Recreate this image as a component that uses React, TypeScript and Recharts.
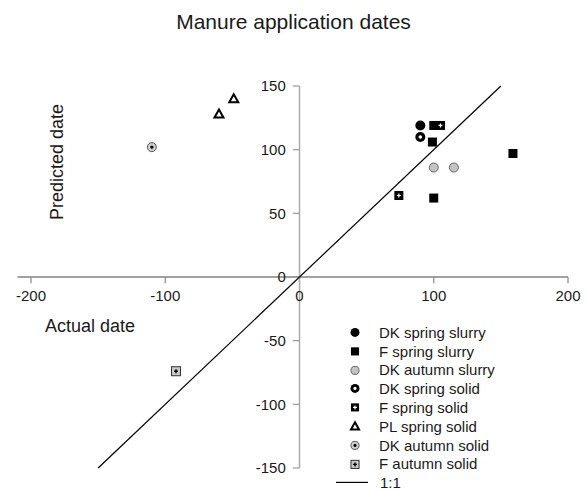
import React from 'react';
import { ScatterChart, Scatter, XAxis, YAxis, ReferenceLine, Legend } from 'recharts';

// axis setup
const xTicks = [-200, -100, 0, 100, 200];
const yTicks = [-150, -100, -50, 0, 50, 100, 150];
const xDomain = [-210, 200];
const yDomain = [-150, 150];
const oneToOne = [-150, 150];

// actual vs predicted application day
const dkSpringSlurry = [{ x: 90, y: 119 }];
const fSpringSlurry = [
  { x: 100, y: 119 },
  { x: 99, y: 106 },
  { x: 159, y: 97 },
  { x: 100, y: 62 },
];
const dkAutumnSlurry = [
  { x: 100, y: 86 },
  { x: 115, y: 86 },
];
const dkSpringSolid = [{ x: 90, y: 110 }];
const fSpringSolid = [
  { x: 105, y: 119 },
  { x: 74, y: 64 },
];
const plSpringSolid = [
  { x: -60, y: 128 },
  { x: -49, y: 140 },
];
const dkAutumnSolid = [{ x: -110, y: 102 }];
const fAutumnSolid = [{ x: -92, y: -74 }];

type Kind = 'circle' | 'square' | 'greyCircle' | 'ringCircle' | 'plusSquare' | 'triangle' | 'dotCircle' | 'dotSquare';

const series: { name: string; data: { x: number; y: number }[]; kind: Kind }[] = [
  { name: 'DK spring slurry', data: dkSpringSlurry, kind: 'circle' },
  { name: 'F spring slurry', data: fSpringSlurry, kind: 'square' },
  { name: 'DK autumn slurry', data: dkAutumnSlurry, kind: 'greyCircle' },
  { name: 'DK spring solid', data: dkSpringSolid, kind: 'ringCircle' },
  { name: 'F spring solid', data: fSpringSolid, kind: 'plusSquare' },
  { name: 'PL spring solid', data: plSpringSolid, kind: 'triangle' },
  { name: 'DK autumn solid', data: dkAutumnSolid, kind: 'dotCircle' },
  { name: 'F autumn solid', data: fAutumnSolid, kind: 'dotSquare' },
];

const FONT = 'Arial, "Liberation Sans", sans-serif';
const TEXT = '#1a1a1a';

const Marker = ({ kind, cx, cy, s = 1 }: { kind: Kind; cx: number; cy: number; s?: number }) => {
  const h = 4.5 * s;
  switch (kind) {
    case 'circle':
      return <circle cx={cx} cy={cy} r={5 * s} fill="#000" />;
    case 'square':
      return <rect x={cx - h} y={cy - h} width={2 * h} height={2 * h} fill="#000" />;
    case 'greyCircle':
      return <circle cx={cx} cy={cy} r={4.5 * s} fill="#c4c4c4" stroke="#666" strokeWidth={1} />;
    case 'ringCircle':
      return (
        <g>
          <circle cx={cx} cy={cy} r={5 * s} fill="#000" />
          <circle cx={cx} cy={cy} r={1.8 * s} fill="#fff" />
        </g>
      );
    case 'plusSquare':
      return (
        <g>
          <rect x={cx - h} y={cy - h} width={2 * h} height={2 * h} fill="#000" />
          <path d={`M${cx - 2} ${cy}H${cx + 2}M${cx} ${cy - 2}V${cy + 2}`} stroke="#fff" strokeWidth={1.2} />
        </g>
      );
    case 'triangle':
      return (
        <polygon
          points={`${cx},${cy - 4.5 * s} ${cx + 4.5 * s},${cy + 3.5 * s} ${cx - 4.5 * s},${cy + 3.5 * s}`}
          fill="#fff"
          stroke="#000"
          strokeWidth={2}
          strokeLinejoin="miter"
        />
      );
    case 'dotCircle':
      return (
        <g>
          <circle cx={cx} cy={cy} r={4.5 * s} fill="#cfcfcf" stroke="#555" strokeWidth={1} />
          <circle cx={cx} cy={cy} r={1.7 * s} fill="#000" />
        </g>
      );
    case 'dotSquare':
      return (
        <g>
          <rect x={cx - h} y={cy - h} width={2 * h} height={2 * h} fill="#c8c8c8" stroke="#333" strokeWidth={1} />
          <path d={`M${cx - 2} ${cy}H${cx + 2}M${cx} ${cy - 2}V${cy + 2}`} stroke="#000" strokeWidth={1.4} />
        </g>
      );
  }
  return null;
};

const LegendBox = () => (
  <div style={{ fontFamily: FONT, fontSize: 15, color: TEXT }}>
    {series.map((s) => (
      <div key={s.name} style={{ display: 'flex', alignItems: 'center', height: 18.8 }}>
        <svg width={49} height={18.8}>
          <Marker kind={s.kind} cx={25} cy={9.4} s={0.9} />
        </svg>
        <span style={{ whiteSpace: 'nowrap' }}>{s.name}</span>
      </div>
    ))}
    <div style={{ display: 'flex', alignItems: 'center', height: 18.8 }}>
      <svg width={50} height={18.8}>
        <line x1={6} x2={38} y1={9.4} y2={9.4} stroke="#000" strokeWidth={1.2} />
      </svg>
      <span>1:1</span>
    </div>
  </div>
);

const labelStyle = { fill: TEXT, fontSize: 15, fontFamily: FONT };

export default function App() {
  return (
    <div style={{ position: 'absolute', left: 0, top: 0, width: 587, height: 492, background: '#fff' }}>
      <div
        style={{
          position: 'absolute',
          top: 10,
          left: 0,
          width: 587,
          textAlign: 'center',
          fontFamily: FONT,
          fontSize: 21,
          lineHeight: '24px',
          color: TEXT,
        }}
      >
        Manure application dates
      </div>
      <div
        style={{
          position: 'absolute',
          left: 57,
          top: 162,
          transform: 'translate(-50%, -50%) rotate(-90deg)',
          whiteSpace: 'nowrap',
          fontFamily: FONT,
          fontSize: 18,
          color: TEXT,
        }}
      >
        Predicted date
      </div>
      <div
        style={{
          position: 'absolute',
          left: 45,
          top: 315,
          fontFamily: FONT,
          fontSize: 18,
          lineHeight: '22px',
          color: TEXT,
          whiteSpace: 'nowrap',
        }}
      >
        Actual date
      </div>

      <ScatterChart width={587} height={492} margin={{ top: 86, right: 19, bottom: 24, left: 17.6 }}>
        <XAxis type="number" dataKey="x" domain={xDomain} hide allowDataOverflow />
        <YAxis type="number" dataKey="y" domain={yDomain} hide allowDataOverflow />

        {/* axes crossing at the origin */}
        <ReferenceLine y={0} stroke="#444" strokeWidth={1.2} />
        <ReferenceLine x={0} stroke="#aaa" strokeWidth={1.5} />

        {xTicks.map((t) => (
          <ReferenceLine
            key={`xt${t}`}
            segment={[{ x: t, y: 0 }, { x: t, y: -5 }]}
            stroke={t === 0 ? '#aaa' : '#888'}
            strokeWidth={1.2}
            label={{ value: String(t), position: 'bottom', offset: 7, ...labelStyle }}
          />
        ))}
        {yTicks.map((t) => (
          <ReferenceLine
            key={`yt${t}`}
            segment={[{ x: 0, y: t }, { x: -5, y: t }]}
            stroke="#999"
            strokeWidth={1.2}
            label={{ value: String(t), position: 'left', offset: 7, ...labelStyle }}
          />
        ))}

        <ReferenceLine
          segment={[
            { x: oneToOne[0], y: oneToOne[0] },
            { x: oneToOne[1], y: oneToOne[1] },
          ]}
          stroke="#000"
          strokeWidth={1.2}
        />

        {series.map((s) => (
          <Scatter
            key={s.name}
            name={s.name}
            data={s.data}
            isAnimationActive={false}
            shape={(p: any) => <Marker kind={s.kind} cx={p.cx} cy={p.cy} />}
          />
        ))}

        <Legend
          layout="vertical"
          align="center"
          verticalAlign="middle"
          content={() => <LegendBox />}
          wrapperStyle={{ position: 'absolute', left: 330, top: 323, width: 250, height: 170 }}
        />
      </ScatterChart>
    </div>
  );
}
